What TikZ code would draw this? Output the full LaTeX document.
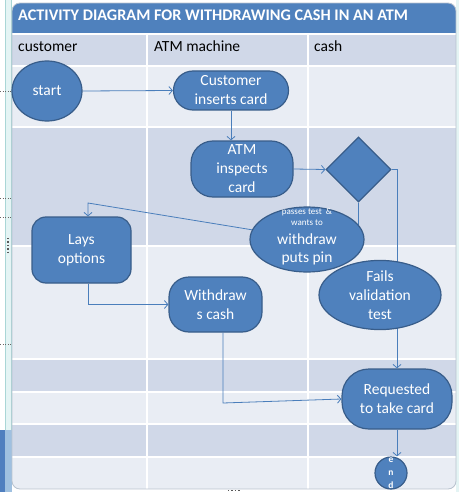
\documentclass[tikz,border=0pt]{standalone}
\usepackage{fontspec}
\setmainfont{Carlito}
\usetikzlibrary{shapes.geometric,arrows.meta}
\definecolor{nodeblue}{HTML}{4F81BD}
\definecolor{nodeedge}{HTML}{385D8A}
\definecolor{linkblue}{HTML}{4A7EBB}
\definecolor{rowdark}{HTML}{D0D8E8}
\definecolor{rowlight}{HTML}{E9EDF4}
\definecolor{titleblue}{HTML}{4F81BD}
\definecolor{framegrey}{HTML}{B9C3CF}
\definecolor{margincyan}{HTML}{E4F4F4}
\definecolor{marginline}{HTML}{A9D6D6}
\definecolor{deskblue}{HTML}{4F7FBF}
\definecolor{desklight}{HTML}{9FC0E0}
\pgfdeclarelayer{bg}\pgfdeclarelayer{lines}\pgfsetlayers{bg,lines,main}
\begin{document}
\begin{tikzpicture}[x=1pt,y=-1pt,
  act/.style={fill=nodeblue,draw=nodeedge,line width=1.2pt,text=white,align=center,inner sep=0pt,font=\fontsize{15.5}{19}\selectfont},
  rr/.style={act,rectangle,rounded corners=#1},
  ell/.style={act,ellipse},
  conn/.style={draw=linkblue,line width=0.8pt},
  tip/.style={conn,-{Straight Barb[length=3.5pt,width=8pt,line width=0.8pt]}},
  lane/.style={font=\fontsize{15.5}{19}\selectfont,anchor=base west,text=black,inner sep=0pt},
  smalltxt/.style={text=white,inner sep=0pt,font=\fontsize{9}{11}\selectfont},
  bigtxt/.style={text=white,inner sep=0pt,font=\fontsize{15.5}{19}\selectfont},
  ]
\useasboundingbox (0,0) rectangle (459,492);
\begin{pgfonlayer}{bg}
\fill[white] (0,0) rectangle (459,492);
% window margins
\fill[margincyan] (5,0) rectangle (12,492);
\draw[marginline,line width=0.8pt] (5.5,0) -- (5.5,492) (11.5,0) -- (11.5,492);
\fill[deskblue] (0,430) rectangle (5,492);
\fill[desklight] (5,430) rectangle (12,492);
\fill[margincyan] (456,0) rectangle (459,492);
\draw[gray!80!black,dotted,line width=0.6pt] (0,91) -- (11,91) (0,198) -- (11,198) (0,217) -- (11,217) (0,344) -- (11,344);
\draw[gray!70!black,dotted,line width=1.4pt] (8,238) -- (8,252);
\draw[gray!70!black,dotted,line width=1.4pt] (228,490.5) -- (240,490.5);
% table
\begin{scope}
\clip[rounded corners=8pt] (12,3) rectangle (456,489);
\fill[rowlight] (12,3) rectangle (456,489);
\fill[titleblue] (12,3) rectangle (456,33.5);
\fill[rowdark] (12,35) rectangle (456,66.5);
\fill[rowlight] (12,66.5) rectangle (456,126.5);
\fill[rowdark] (12,126.5) rectangle (456,245.5);
\fill[rowlight] (12,245.5) rectangle (456,358.5);
\fill[rowdark] (12,358.5) rectangle (456,391.5);
\fill[rowlight] (12,391.5) rectangle (456,424);
\fill[rowdark] (12,424) rectangle (456,456.5);
\fill[rowlight] (12,456.5) rectangle (456,489);
\draw[white,line width=2pt] (12,34.2) -- (456,34.2)
  (12,66.5) -- (456,66.5) (12,126.5) -- (456,126.5) (12,245.5) -- (456,245.5)
  (12,358.5) -- (456,358.5) (12,391.5) -- (456,391.5) (12,424) -- (456,424)
  (12,456.5) -- (456,456.5)
  (147,35) -- (147,489) (308,35) -- (308,489);
\end{scope}
\draw[framegrey,line width=0.8pt,rounded corners=8pt] (12,3) rectangle (456,489);
\node[anchor=base west,text=white,inner sep=0pt,font=\bfseries\fontsize{16.2}{19}\selectfont] (title) at (18,20.5) {ACTIVITY DIAGRAM FOR WITHDRAWING CASH IN AN ATM};
\node[lane] (lane1) at (18,52) {customer};
\node[lane] (lane2) at (154,52) {ATM machine};
\node[lane] (lane3) at (314,52) {cash};
\end{pgfonlayer}

% activity nodes
\node[ell,minimum width=70pt,minimum height=60pt] (start) at (47,91) {start};
\node[rr=19.5pt,minimum width=115pt,minimum height=39pt] (ins) at (231,90.5) {Customer\\inserts card};
\node[rr=22pt,minimum width=102pt,minimum height=56pt] (insp) at (242,169) {ATM\\inspects\\card};
\node[act,diamond,minimum width=65pt,minimum height=65pt,aspect=1] (dia) at (358.5,169.5) {};
\node[ell,minimum width=114pt,minimum height=65pt] (pt) at (307,239.5) {};
\node[smalltxt] (ptA) at (307,212) {passes test \ \&};
\node[smalltxt] (ptB) at (307,223) {wants to};
\node[bigtxt] (ptC) at (307,239) {withdraw};
\node[bigtxt] (ptD) at (307,258) {puts pin};
\node[ell,minimum width=122pt,minimum height=64pt] (fail) at (380,295) {Fails\\validation\\test};
\node[rr=14pt,minimum width=99pt,minimum height=66pt] (lays) at (81.5,250) {Lays\\options};
\node[rr=20pt,minimum width=93pt,minimum height=55pt] (wd) at (215.5,304.5) {Withdraw\\s cash};
\node[rr=27pt,minimum width=110pt,minimum height=60pt] (req) at (397,399) {Requested\\to take card};
\node[act,circle,minimum size=32pt] (end) at (391,473) {};
\node[text=white,inner sep=0pt,align=center,font=\bfseries\fontsize{9.5}{13}\selectfont] (endtxt) at (391,473) {e\\n\\d};

% connectors
\begin{pgfonlayer}{lines}
\draw[tip] (start.east) -- (ins.west);
\draw[tip] (ins.south) -- (ins.south |- insp.north);
\draw[tip] (insp.east) -- (dia.west);
\draw[tip] (dia.east) -| (req.north);
\draw[conn] (dia.south) -- (dia.south |- pt.center);
\coordinate (k1) at (88,203);
\draw[tip] (pt.170) -- (k1) -- (k1 |- lays.north);
\draw[tip] (k1 |- lays.south) -- (k1 |- wd.west) -- (wd.west);
\coordinate (k2) at (223,403);
\draw[tip] (k2 |- wd.south) -- (k2) -- (req.west);
\draw[tip] (req.south) -- (req.south |- end.north);
\end{pgfonlayer}
\end{tikzpicture}
\end{document}
